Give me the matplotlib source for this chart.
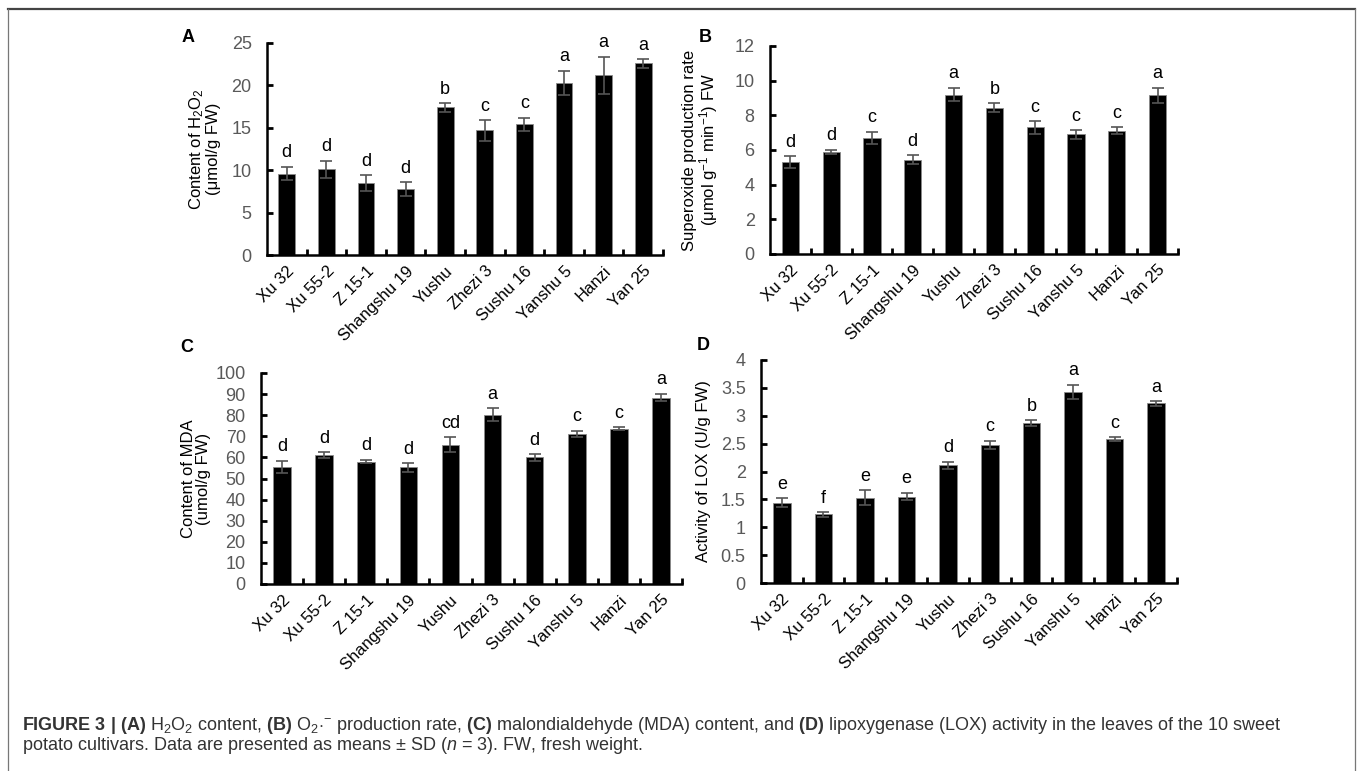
import numpy as np
import matplotlib
matplotlib.use("Agg")
import matplotlib.pyplot as plt
from matplotlib.lines import Line2D

plt.rcParams['font.family'] = ['Liberation Sans', 'DejaVu Sans']
plt.rcParams['mathtext.fontset'] = 'custom'
plt.rcParams['mathtext.rm'] = 'Liberation Sans'
plt.rcParams['mathtext.it'] = 'Liberation Sans:italic'
plt.rcParams['mathtext.bf'] = 'Liberation Sans:bold'

# cultivars
cultivars = ["Xu 32", "Xu 55-2", "Z 15-1", "Shangshu 19", "Yushu",
             "Zhezi 3", "Sushu 16", "Yanshu 5", "Hanzi", "Yan 25"]

# (A) H2O2 content
h2o2 = [9.6, 10.1, 8.5, 7.8, 17.4, 14.7, 15.4, 20.3, 21.2, 22.6]
h2o2_sd = [0.8, 1.0, 0.9, 0.8, 0.5, 1.2, 0.8, 1.4, 2.2, 0.5]
h2o2_sig = ["d", "d", "d", "d", "b", "c", "c", "a", "a", "a"]

# (B) superoxide production rate
sup = [5.3, 5.9, 6.7, 5.45, 9.2, 8.45, 7.3, 6.9, 7.1, 9.15]
sup_sd = [0.35, 0.12, 0.35, 0.25, 0.4, 0.25, 0.35, 0.25, 0.2, 0.45]
sup_sig = ["d", "d", "c", "d", "a", "b", "c", "c", "c", "a"]

# (C) MDA content
mda = [55.5, 61.0, 58.0, 55.3, 66.0, 80.3, 60.0, 71.0, 73.5, 88.3]
mda_sd = [3.0, 1.5, 0.8, 2.0, 3.5, 3.0, 1.5, 1.5, 0.7, 1.8]
mda_sig = ["d", "d", "d", "d", "cd", "a", "d", "c", "c", "a"]

# (D) LOX activity
lox = [1.44, 1.23, 1.53, 1.55, 2.11, 2.48, 2.87, 3.43, 2.58, 3.22]
lox_sd = [0.08, 0.04, 0.13, 0.07, 0.06, 0.07, 0.05, 0.13, 0.03, 0.04]
lox_sig = ["e", "f", "e", "e", "d", "c", "b", "a", "c", "a"]

W, H = 1357, 771
fig = plt.figure(figsize=(W / 100, H / 100), dpi=100)


def px_axes(l, t, r, b):
    return fig.add_axes([l / W, 1 - b / H, (r - l) / W, (b - t) / H])


def panel(ax, vals, sd, sig, ymax, ystep, ylabel, letter, lx, ly, ylab_x):
    x = np.arange(len(vals))
    ax.bar(x, vals, width=0.42, color="black", edgecolor="#8a8a8a", linewidth=0.6, zorder=2)
    ax.errorbar(x, vals, yerr=sd, fmt="none", ecolor="#555555", elinewidth=1.2,
                capsize=4, capthick=1.2, zorder=3)
    for xi, v, s, g in zip(x, vals, sd, sig):
        ax.annotate(g, (xi, v + s), xytext=(0, 4), textcoords="offset points",
                    ha="center", va="bottom", fontsize=13, color="black")
    ax.set_xlim(-0.5, len(vals) - 0.5)
    ax.set_ylim(0, ymax)
    ticks = np.arange(0, ymax + ystep / 2, ystep)
    ax.set_yticks(ticks)
    ax.set_yticklabels([("%g" % t) for t in ticks])
    ax.set_xticks(x)
    ax.set_xticklabels(cultivars, rotation=45, ha="right", rotation_mode="anchor",
                       fontsize=12)
    ax.set_xticks(np.arange(0.5, len(vals), 1.0), minor=True)
    ax.tick_params(axis="x", which="major", length=0, pad=6)
    ax.tick_params(axis="x", which="minor", direction="in", length=4, width=2, color="black")
    ax.tick_params(axis="y", direction="in", length=4, width=2, color="black",
                   labelsize=13, labelcolor="#595959", pad=11)
    for s in ["top", "right"]:
        ax.spines[s].set_visible(False)
    for s in ["left", "bottom"]:
        ax.spines[s].set_linewidth(1.8)
    ax.set_ylabel(ylabel, fontsize=12, color="black", linespacing=1.0)
    # label x given as right edge of the rotated text block, in pixels
    pos = ax.get_position()
    ax.yaxis.set_label_coords((ylab_x - pos.x0 * W) / (pos.width * W), 0.5)
    fig.text(lx / W, 1 - ly / H, letter, fontsize=13, fontweight="bold",
             ha="center", va="center")


axA = px_axes(267, 43, 663, 255)
panel(axA, h2o2, h2o2_sd, h2o2_sig, 25, 5,
      "Content of H$_2$O$_2$\n(\u03bcmol/g FW)", "A", 188, 37, 221)

axB = px_axes(770, 46, 1178, 254)
panel(axB, sup, sup_sd, sup_sig, 12, 2,
      "Superoxide production rate\n(\u03bcmol g$^{-1}$ min$^{-1}$) FW", "B", 705, 37, 720)

axC = px_axes(261, 373, 682, 584)
panel(axC, mda, mda_sd, mda_sig, 100, 10,
      "Content of MDA\n(umol/g FW)", "C", 187, 348, 211)

axD = px_axes(761, 360, 1177, 583)
panel(axD, lox, lox_sd, lox_sig, 4, 0.5,
      "Activity of LOX (U/g FW)", "D", 703, 345, 711)

# frame around the figure
fig.add_artist(Line2D([8 / W, 1355 / W], [1 - 9 / H, 1 - 9 / H], color="#444444", lw=1.6))
fig.add_artist(Line2D([8 / W, 8 / W], [1 - 9 / H, 0], color="#777777", lw=0.9))
fig.add_artist(Line2D([1355 / W, 1355 / W], [1 - 9 / H, 0], color="#777777", lw=0.9))

cap1 = (r"$\bf{FIGURE\ 3\ |\ (A)}$ H$_2$O$_2$ content, $\bf{(B)}$ O$_2$$\cdot$$^{-}$ production rate, "
        r"$\bf{(C)}$ malondialdehyde (MDA) content, and $\bf{(D)}$ lipoxygenase (LOX) activity "
        r"in the leaves of the 10 sweet")
cap2 = r"potato cultivars. Data are presented as means $\pm$ SD ($\it{n}$ = 3). FW, fresh weight."
fig.text(22 / W, 1 - 725 / H, cap1, fontsize=13, color="#333333", va="center", ha="left")
fig.text(22 / W, 1 - 745 / H, cap2, fontsize=13, color="#333333", va="center", ha="left")

fig.savefig("out.png", dpi=100)
